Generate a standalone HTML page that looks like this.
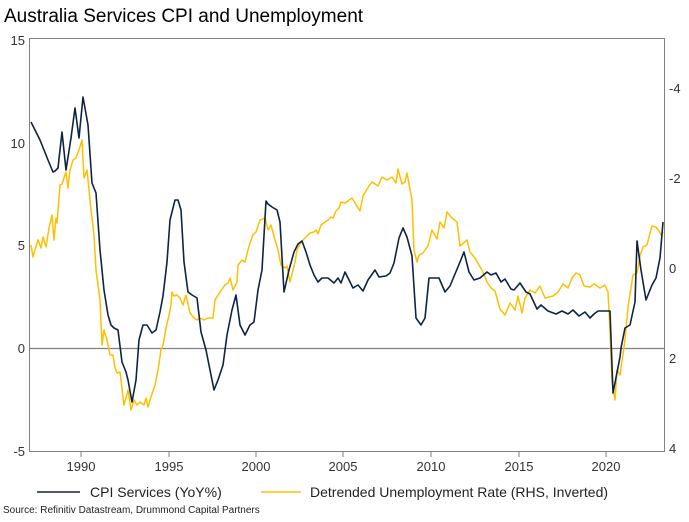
<!DOCTYPE html>
<html><head><style>
body{margin:0;background:#fff;font-family:"Liberation Sans",sans-serif;}
</style></head><body>
<svg width="689" height="517" xmlns="http://www.w3.org/2000/svg" font-family="Liberation Sans, sans-serif">
<rect width="689" height="517" fill="#fff"/>
<text x="4" y="22" font-size="19" fill="#000">Australia Services CPI and Unemployment</text>
<rect x="29.5" y="38.5" width="635" height="413" fill="none" stroke="#808080" stroke-width="1"/>
<line x1="29" y1="348.5" x2="664" y2="348.5" stroke="#808080" stroke-width="1.2"/>
<g stroke="#808080"><line x1="81" y1="452" x2="81" y2="457"/><line x1="169" y1="452" x2="169" y2="457"/><line x1="256" y1="452" x2="256" y2="457"/><line x1="343" y1="452" x2="343" y2="457"/><line x1="431" y1="452" x2="431" y2="457"/><line x1="519" y1="452" x2="519" y2="457"/><line x1="606" y1="452" x2="606" y2="457"/></g>
<g font-size="13" fill="#333" text-anchor="end"><text x="25" y="45">15</text><text x="25" y="148">10</text><text x="25" y="250">5</text><text x="25" y="353">0</text><text x="25" y="456">-5</text></g>
<g font-size="13" fill="#333"><text x="669" y="93">-4</text><text x="669" y="183">-2</text><text x="669" y="273">0</text><text x="669" y="363">2</text><text x="669" y="453">4</text></g>
<g font-size="13" fill="#333" text-anchor="middle"><text x="81" y="471">1990</text><text x="169" y="471">1995</text><text x="256" y="471">2000</text><text x="343" y="471">2005</text><text x="431" y="471">2010</text><text x="519" y="471">2015</text><text x="606" y="471">2020</text></g>
<polyline fill="none" stroke="#FFC000" stroke-width="1.5" stroke-linejoin="round" points="31,245 33,257 38,240 41,248 43,237 46,247 49,228 52,215 54,240 56,218 57,223 60,185 62,184 66,172 68,188 70,170 73,160 76,158 79,150 82,140 84,178 87,170 91,210 94,235 96,270 100,300 102,345 104,330 107,340 110,355 113,355 115,368 117,373 120,372 124,405 128,390 131,410 134,400 137,405 140,402 144,405 146,398 148,407 150,400 155,385 158,370 161,350 163,345 166,328 169,315 171,305 172,292 174,296 177,295 180,298 183,305 186,295 190,313 194,318 197,320 200,318 204,320 208,318 213,318 215,300 220,292 225,285 228,283 230,278 233,290 237,282 238,265 242,260 245,262 248,250 251,240 253,235 256,232 260,220 265,218 268,230 271,225 275,240 278,250 281,265 285,268 287,266 290,282 293,270 295,262 297,250 300,244 303,240 306,237 310,233 314,232 316,230 318,234 321,225 325,222 328,220 331,217 333,218 336,211 339,208 341,202 345,203 352,198 357,206 360,211 363,196 367,189 372,182 378,186 382,177 387,180 392,177 396,183 398,169 402,184 405,182 407,173 412,200 414,250 417,262 419,255 423,253 428,246 432,230 437,239 440,222 444,228 447,212 452,218 457,222 460,246 467,240 470,252 475,258 479,265 483,272 487,282 491,288 495,291 500,309 505,315 510,303 515,310 518,296 522,313 525,298 530,290 535,293 540,286 545,298 549,297 553,296 558,292 563,284 568,288 572,278 576,273 580,275 584,286 590,287 594,284 600,288 605,285 608,292 610,330 612,382 615,400 617,370 620,375 625,340 628,307 633,275 637,273 640,256 643,247 647,245 649,237 652,226 656,227 659,231 661,235 663,232"/>
<polyline fill="none" stroke="#0F2345" stroke-width="1.6" stroke-linejoin="round" points="31,122 40,140 48,160 53,172 55,171 58,168 62,132 66,170 71,138 75,108 79,138 83,97 88,125 92,183 96,193 100,250 104,290 108,315 111,325 114,328 118,330 122,362 126,372 128,380 132,402 136,380 139,340 143,325 147,325 152,333 156,330 160,312 163,296 167,262 170,220 175,200 178,200 181,210 184,262 188,292 192,295 197,298 201,332 206,350 209,365 214,390 218,380 223,365 227,335 232,310 236,295 240,325 245,335 250,325 254,322 258,290 262,270 266,201 268,204 272,207 277,210 280,222 284,292 289,270 294,252 298,244 302,241 306,252 310,265 314,275 318,282 322,278 328,278 334,283 338,278 341,283 345,272 353,288 358,285 363,291 368,280 375,270 379,277 386,276 390,273 394,263 399,238 403,228 407,237 412,256 416,318 421,325 425,318 429,278 439,278 445,292 450,286 455,274 460,262 464,252 469,272 474,280 480,278 487,272 491,275 496,273 501,282 505,279 511,289 514,290 520,283 526,292 530,294 537,309 541,305 548,311 556,314 562,311 568,314 573,310 579,316 585,312 590,318 594,314 598,311 605,311 610,311 613,393 620,357 621,348 625,328 630,325 635,302 637,241 641,270 646,300 652,285 656,278 660,258 663,222"/>
<line x1="37" y1="492" x2="80" y2="492" stroke="#0F2345" stroke-width="1.6"/>
<text x="90" y="497" font-size="14" fill="#222">CPI Services (YoY%)</text>
<line x1="261" y1="492" x2="301" y2="492" stroke="#FFC000" stroke-width="1.6"/>
<text x="310" y="497" font-size="14" fill="#222">Detrended Unemployment Rate (RHS, Inverted)</text>
<text x="3" y="513" font-size="10" fill="#222">Source: Refinitiv Datastream, Drummond Capital Partners</text>
</svg>
</body></html>
